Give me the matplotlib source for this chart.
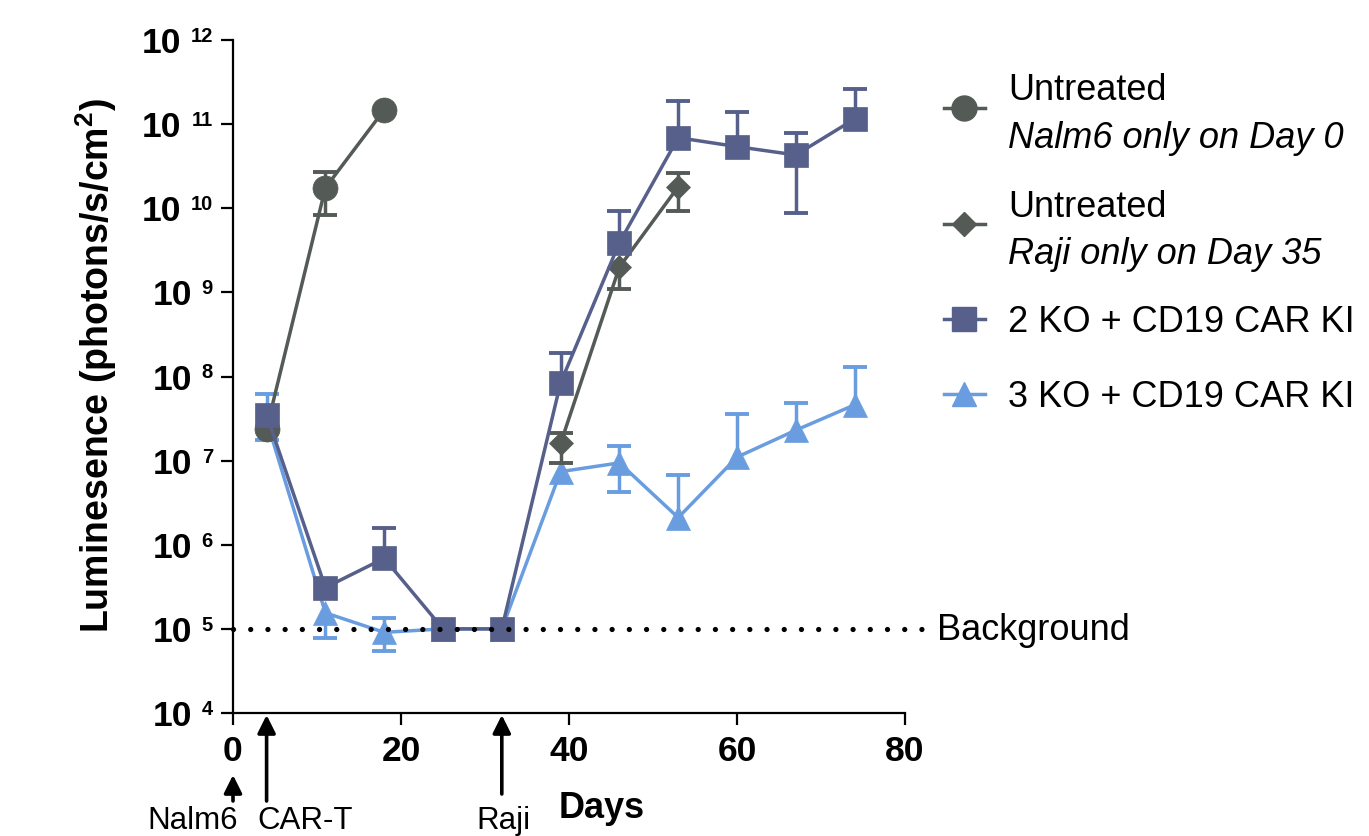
import numpy as np
import matplotlib.pyplot as plt
from matplotlib.lines import Line2D

plt.rcParams['font.family'] = ['Liberation Sans', 'DejaVu Sans']
plt.rcParams['mathtext.fontset'] = 'custom'
plt.rcParams['mathtext.rm'] = 'Liberation Sans'
plt.rcParams['mathtext.bf'] = 'Liberation Sans:bold'
plt.rcParams['mathtext.it'] = 'Liberation Sans:italic'

nan = np.nan

# --- data ---
nalm6_days = [4, 11, 18]
nalm6_mean = [2.4e7, 1.75e10, 1.48e11]
nalm6_hi = [nan, 2.7e10, nan]
nalm6_lo = [nan, 8.3e9, nan]

raji_days = [39, 46, 53]
raji_mean = [1.6e7, 2.0e9, 1.8e10]
raji_hi = [2.15e7, nan, 2.6e10]
raji_lo = [9.3e6, 1.1e9, 9.3e9]

days = [4, 11, 18, 25, 32, 39, 46, 53, 60, 67, 74]
ko2_mean = [3.5e7, 3.1e5, 6.9e5, 1e5, 1e5, 8.4e7, 3.9e9, 6.9e10, 5.4e10, 4.3e10, 1.15e11]
ko2_hi = [nan, nan, 1.6e6, nan, nan, 1.9e8, 9.4e9, 1.9e11, 1.4e11, 7.9e10, 2.6e11]
ko2_lo = [nan, nan, nan, nan, nan, nan, nan, nan, nan, 8.9e9, nan]

ko3_mean = [3.0e7, 1.55e5, 9.1e4, 1e5, 1e5, 7.4e6, 9.4e6, 2.1e6, 1.1e7, 2.3e7, 4.6e7]
ko3_hi = [6.2e7, nan, 1.35e5, nan, nan, nan, 1.48e7, 6.7e6, 3.6e7, 4.9e7, 1.3e8]
ko3_lo = [1.75e7, 7.8e4, 5.5e4, nan, nan, nan, 4.2e6, nan, nan, nan, nan]

background = 1e5
events = [(0, 'Nalm6'), (4, 'CAR-T'), (32, 'Raji')]

c_dark = '#545a55'
c_slate = '#56608a'
c_light = '#6a9de0'

W, H = 1369, 836
fx = lambda px: px / W
fy = lambda py: 1 - py / H

fig = plt.figure(figsize=(W / 100, H / 100), dpi=100)
ax = fig.add_axes([fx(233), fy(713), (905 - 233) / W, (713 - 40) / H])


def draw(x, y, lo, hi, color, marker, ms, z):
    x = np.asarray(x, float)
    y = np.asarray(y, float)
    for bound in (np.asarray(lo, float), np.asarray(hi, float)):
        m = np.isfinite(bound)
        ax.vlines(x[m], y[m], bound[m], color=color, lw=2.5, zorder=z)
        ax.plot(x[m], bound[m], ls='none', marker='_', ms=17, mew=2.8,
                color=color, zorder=z)
    ax.plot(x, y, color=color, lw=2.5, marker=marker, ms=ms, mec=color,
            mew=0.5, zorder=z + 0.5)


draw(days, ko3_mean, ko3_lo, ko3_hi, c_light, '^', 17, 3)
draw(nalm6_days, nalm6_mean, nalm6_lo, nalm6_hi, c_dark, 'o', 18, 4)
draw(raji_days, raji_mean, raji_lo, raji_hi, c_dark, 'D', 12, 5)
draw(days, ko2_mean, ko2_lo, ko2_hi, c_slate, 's', 17, 6)

# background line
ax.plot([0, 82.4], [background, background], color='black', lw=3.8,
        ls=(0, (0.001, 3.26)), dash_capstyle='round', clip_on=False, zorder=7)
fig.text(fx(937), fy(640), 'Background', fontsize=26, va='baseline', ha='left')

ax.set_yscale('log')
ax.set_xlim(0, 80)
ax.set_ylim(1e4, 1e12)
ax.set_xticks([0, 20, 40, 60, 80])
ax.set_yticks([10.0 ** k for k in range(4, 13)])
ax.yaxis.set_minor_locator(plt.NullLocator())
for s in ['top', 'right']:
    ax.spines[s].set_visible(False)
for s in ['left', 'bottom']:
    ax.spines[s].set_linewidth(1.6)
ax.tick_params(direction='out', length=8.6, width=1.6, labelsize=25.5, pad=7)
ax.tick_params(axis='y', labelleft=False)
for lbl in ax.get_xticklabels():
    lbl.set_fontweight('bold')

# y tick labels as 10 + exponent
for k in range(4, 13):
    off = -37.5 if k >= 10 else -29.5
    ax.annotate('10', xy=(0, 10.0 ** k), xycoords=('axes fraction', 'data'),
                xytext=(off, -9.4), textcoords='offset points',
                ha='right', va='baseline', fontsize=25.5, fontweight='bold',
                annotation_clip=False)
    ax.annotate(str(k), xy=(0, 10.0 ** k), xycoords=('axes fraction', 'data'),
                xytext=(-14.4, -1.4), textcoords='offset points',
                ha='right', va='baseline', fontsize=14.5, fontweight='bold',
                annotation_clip=False)

fig.text(fx(96), fy(366), r'Luminesence (photons/s/cm$^{\mathbf{2}}$)',
         rotation=90, ha='center', va='center', fontsize=27, fontweight='bold')
fig.text(fx(602), fy(818), 'Days', ha='center', va='baseline',
         fontsize=26, fontweight='bold')

# event arrows under the x axis
tips = {'Nalm6': 775, 'CAR-T': 715, 'Raji': 715}
tails = {'Nalm6': 801, 'CAR-T': 801, 'Raji': 794}
text_x = {'Nalm6': 193, 'CAR-T': 305, 'Raji': 503}
trans = ax.get_xaxis_transform()
for d, name in events:
    ax.annotate('', xy=(d, (713 - tips[name]) / 673),
                xytext=(d, (713 - tails[name]) / 673),
                xycoords=trans, textcoords=trans, annotation_clip=False,
                arrowprops=dict(arrowstyle='-|>', lw=2.6, color='black',
                                mutation_scale=27, shrinkA=0, shrinkB=0))
    fig.text(fx(text_x[name]), fy(829), name, ha='center', va='baseline',
             fontsize=22.5)

# legend drawn by hand
leg = [
    (c_dark, 'o', 18, 108, [('Untreated', 100, 'normal'),
                            ('Nalm6 only on Day 0', 148, 'italic')]),
    (c_dark, 'D', 12, 224, [('Untreated', 217, 'normal'),
                            ('Raji only on Day 35', 264, 'italic')]),
    (c_slate, 's', 17, 319, [('2 KO + CD19 CAR KI', 332, 'normal')]),
    (c_light, '^', 17, 394, [('3 KO + CD19 CAR KI', 407, 'normal')]),
]
for color, marker, ms, my, texts in leg:
    fig.add_artist(Line2D([fx(944), fx(964), fx(985)], [fy(my)] * 3,
                          transform=fig.transFigure, color=color, lw=2.5,
                          marker=marker, ms=ms, mec=color, markevery=[1]))
    for t, by, style in texts:
        fig.text(fx(1008), fy(by), t, fontsize=26, style=style,
                 ha='left', va='baseline')

fig.savefig('out.png', dpi=100)
